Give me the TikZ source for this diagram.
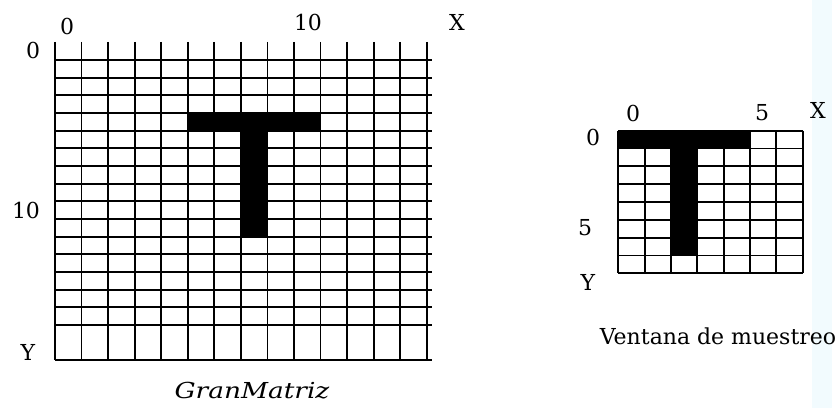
\documentclass[tikz,border=0pt]{standalone}
\usepackage{fontspec}
\setmainfont{DejaVu Serif}

\begin{document}
\begin{tikzpicture}[x=0.5pt, y=-0.5pt, line width=0.9pt,
  lbl/.style={inner sep=0pt, font=\fontsize{11}{13}\selectfont},
  cell/.style={fill=black}]
  \useasboundingbox (0,0) rectangle (840,408);
  \fill[cyan!5] (812,0) rectangle (832,408);

  % big matrix
  \begin{scope}[shift={(55,60)}, x=13.275pt, y=-8.835pt]
    \fill[cell] (5,3) rectangle (10,4);
    \fill[cell] (7,4) rectangle (8,10);
    \foreach \i in {0,...,14}
      \draw (\i,-1.02) -- (\i,17);
    \foreach \j in {0,...,15}
      \draw (0,\j) -- (14.2,\j);
    \draw (0,17) -- (14.2,17);
  \end{scope}
  \node[lbl] (gx0)  at (67,26)  {0};
  \node[lbl] (gx10) at (308,22) {10};
  \node[lbl] (gxX)  at (457,22) {X};
  \node[lbl] (gy0)  at (33,50)  {0};
  \node[lbl] (gy10) at (26,210) {10};
  \node[lbl] (gyY)  at (28,352) {Y};
  \node[lbl] (gname) at (252,391) {\scalebox{1.2}[1]{\itshape GranMatriz}};

  % sampling window
  \begin{scope}[shift={(618.3,130.7)}, x=13.17pt, y=-8.91pt]
    \fill[cell] (0,0) rectangle (5,1);
    \fill[cell] (2,1) rectangle (3,7);
    \foreach \i in {0,...,7}
      \draw (\i,0) -- (\i,8);
    \foreach \j in {0,...,8}
      \draw (0,\j) -- (7,\j);
  \end{scope}
  \node[lbl] (vx0) at (633,113) {0};
  \node[lbl] (vx5) at (762,113) {5};
  \node[lbl] (vxX) at (818,110) {X};
  \node[lbl] (vy0) at (593,137) {0};
  \node[lbl] (vy5) at (585,228) {5};
  \node[lbl] (vyY) at (588,282) {Y};
  \node[lbl] (vname) at (718,336) {Ventana de muestreo};
\end{tikzpicture}
\end{document}
